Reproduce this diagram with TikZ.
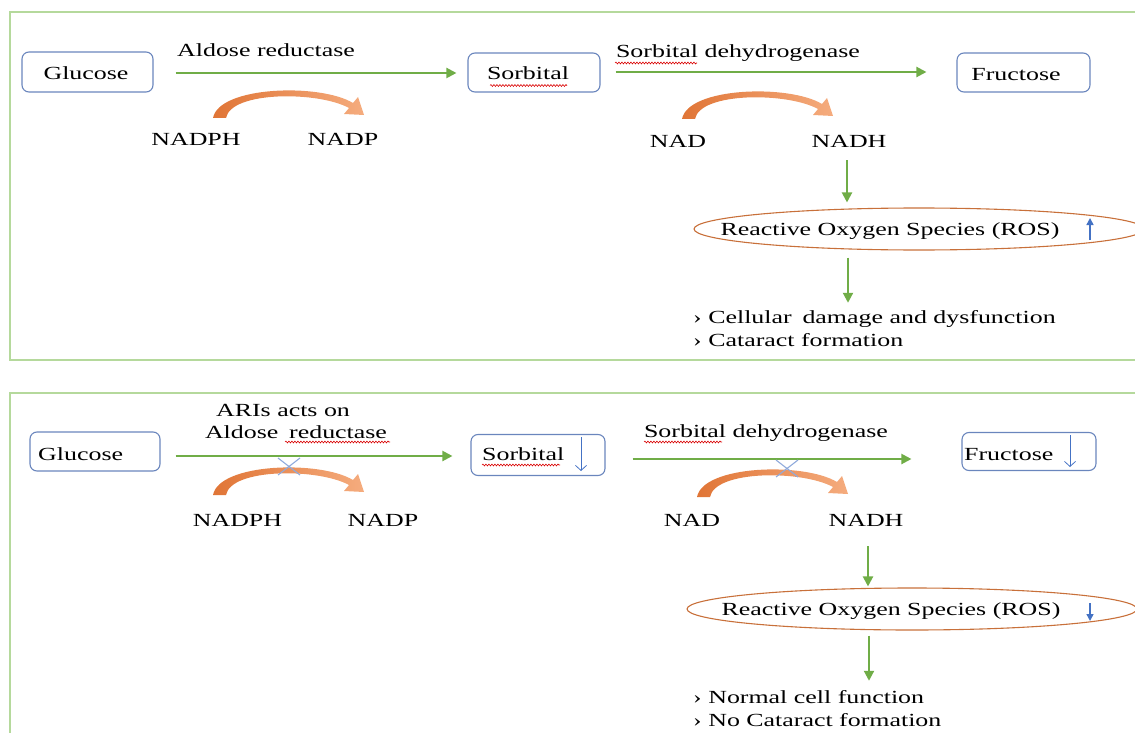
\documentclass[tikz,border=0pt]{standalone}
\usepackage{fontspec}
\setmainfont{Liberation Serif}
\usepackage{graphicx}
\usetikzlibrary{arrows.meta,shapes.geometric,decorations.pathmorphing}
\definecolor{frameg}{HTML}{B5D99C}
\definecolor{arrowg}{HTML}{70AD47}
\definecolor{boxb}{HTML}{6A86BD}
\definecolor{rosor}{HTML}{C8703A}
\definecolor{upblue}{HTML}{4472C4}
\definecolor{xblue}{HTML}{8FAADC}
\definecolor{orA}{HTML}{E07536}
\definecolor{orB}{HTML}{F5AC7E}
\newcommand{\W}[1]{\scalebox{1.4}[1]{#1}}
\begin{document}
\begin{tikzpicture}[x=1pt,y=-1pt,
  every node/.style={font=\fontsize{18.5}{22}\selectfont, inner sep=0pt},
  molbox/.style={draw=boxb, line width=1.1pt, rounded corners=7pt},
  garrow/.style={draw=arrowg, line width=2.1pt, -{Triangle[length=10pt,width=10pt]}},
  panelframe/.style={draw=frameg, line width=1.6pt},
  wavy/.style={draw=red!85!black, line width=0.6pt, decorate, decoration={snake, amplitude=0.9pt, segment length=3pt}},
  xmark/.style={draw=xblue, line width=1.1pt},
  blueup/.style={draw=upblue, line width=1.5pt, -{Triangle[length=7pt,width=7pt]}},
  thinarrow/.style={draw=upblue, line width=0.8pt, -{Straight Barb[length=5pt,width=11pt]}},
  rosell/.style={ellipse, draw=rosor, line width=1.1pt, minimum width=450pt, minimum height=42pt},
  curv/.pic={
    \shade[left color=orA, right color=orB]
      (0,0) .. controls (6,-32) and (107,-35) .. (140,-15) -- (145,-21) -- (151,-3)
      -- (131,-4) -- (136,-10) .. controls (105,-27) and (18,-27) .. (13,0) -- cycle;
  },
]
\useasboundingbox (0,0) rectangle (1135,733);
\clip (0,0) rectangle (1135,733);

% ---------- panel frames ----------
\draw[panelframe] (1140,12) -- (10,12) -- (10,360) -- (1140,360);
\draw[panelframe] (1140,393) -- (10,393) -- (10,740);

% ================= TOP PANEL =================
\node[molbox, minimum width=131pt, minimum height=40pt] (glu1) at (87.5,72) {};
\node[anchor=base] (glu1t) at (86,80) {\W{Glucose}};
\node[molbox, minimum width=132pt, minimum height=39pt] (sor1) at (534,72.5) {};
\node[anchor=base] (sor1t) at (528,80) {\W{Sorbital}};
\node[molbox, minimum width=133pt, minimum height=39pt] (fru1) at (1023.5,72.5) {};
\node[anchor=base] (fru1t) at (1016,81) {\W{Fructose}};

\node[anchor=base] (ar1) at (266,57) {\W{Aldose reductase}};
\node[anchor=base] (sd1) at (738,58) {\W{Sorbital dehydrogenase}};

\draw[garrow, shorten <=22pt, shorten >=11pt] (glu1.east |- 0,73) -- (sor1.west |- 0,73);
\draw[garrow, shorten <=15pt, shorten >=30pt] (sor1.east |- 0,72) -- (fru1.west |- 0,72);

\pic at (213,118) {curv};
\pic at (682,119) {curv};

\node[anchor=base] (nadph1) at (196,146) {\W{NADPH}};
\node[anchor=base] (nadp1) at (343,146) {\W{NADP}};
\node[anchor=base] (nad1) at (678,147) {\W{NAD}};
\node[anchor=base] (nadh1) at (849,147) {\W{NADH}};

\node[rosell] (ros1) at (919,229) {};
\node[anchor=base] (ros1t) at (890,235) {\W{Reactive Oxygen Species (ROS)}};
\draw[blueup] (1090,240) -- (1090,218);

\node[anchor=base west] (cell1) at (693,323) {\W{› Cellular\, damage and dysfunction}};
\node[anchor=base west] (cat1) at (693,346) {\W{› Cataract formation}};

\draw[garrow, shorten <=13pt, shorten >=5pt] (nadh1.south -| 847,0) -- (ros1.north -| 847,0);
\draw[garrow, shorten <=7pt, shorten >=7pt] (ros1.south -| 848,0) -- (cell1.north -| 848,0);

% spell-check squiggles
\draw[wavy] (490,85.5) -- (567,85.5);
\draw[wavy] (615,63) -- (697,63);

% ================= BOTTOM PANEL =================
\node[molbox, minimum width=130pt, minimum height=39pt] (glu2) at (95,451.5) {};
\node[anchor=base west] (glu2t) at (38,460) {\W{Glucose}};
\node[molbox, minimum width=134pt, minimum height=41pt] (sor2) at (538,455) {};
\node[anchor=base west] (sor2t) at (482,460) {\W{Sorbital}};
\draw[thinarrow] (581,437) -- (581,471);
\node[molbox, minimum width=134pt, minimum height=38pt] (fru2) at (1029,451.5) {};
\node[anchor=base west] (fru2t) at (964,460) {\W{Fructose}};
\draw[thinarrow] (1070,435) -- (1070,467);

\node[anchor=base] (ari2) at (283,416) {\W{ARIs acts on}};
\node[anchor=base] (ar2) at (296,438) {\W{Aldose\, reductase}};
\node[anchor=base] (sd2) at (766,437) {\W{Sorbital dehydrogenase}};

\draw[garrow, shorten <=15pt, shorten >=18pt] (glu2.east |- 0,456) -- (sor2.west |- 0,456);
\draw[garrow, shorten <=27pt, shorten >=50pt] (sor2.east |- 0,459) -- (fru2.west |- 0,459);

\pic at (213,495) {curv};
\pic at (697,497) {curv};
\draw[xmark] (278,458) -- (300,475) (278,475) -- (300,458);
\draw[xmark] (776,460) -- (798,477) (776,477) -- (798,460);

\node[anchor=base] (nadph2) at (237.5,526) {\W{NADPH}};
\node[anchor=base] (nadp2) at (383,526) {\W{NADP}};
\node[anchor=base] (nad2) at (692,526) {\W{NAD}};
\node[anchor=base] (nadh2) at (866,526) {\W{NADH}};

\node[rosell] (ros2) at (912,609) {};
\node[anchor=base] (ros2t) at (891,615) {\W{Reactive Oxygen Species (ROS)}};
\draw[blueup] (1090,603) -- (1090,621);

\node[anchor=base west] (norm2) at (693,703) {\W{› Normal cell function}};
\node[anchor=base west] (cat2) at (693,726) {\W{› No Cataract formation}};

\draw[garrow, shorten <=20pt, shorten >=1pt] (nadh2.south -| 868,0) -- (ros2.north -| 868,0);
\draw[garrow, shorten <=5pt, shorten >=9pt] (ros2.south -| 869,0) -- (norm2.north -| 869,0);

\draw[wavy] (285,442) -- (390,442);
\draw[wavy] (482,465) -- (560,465);
\draw[wavy] (644,442) -- (722,442);
\end{tikzpicture}
\end{document}
